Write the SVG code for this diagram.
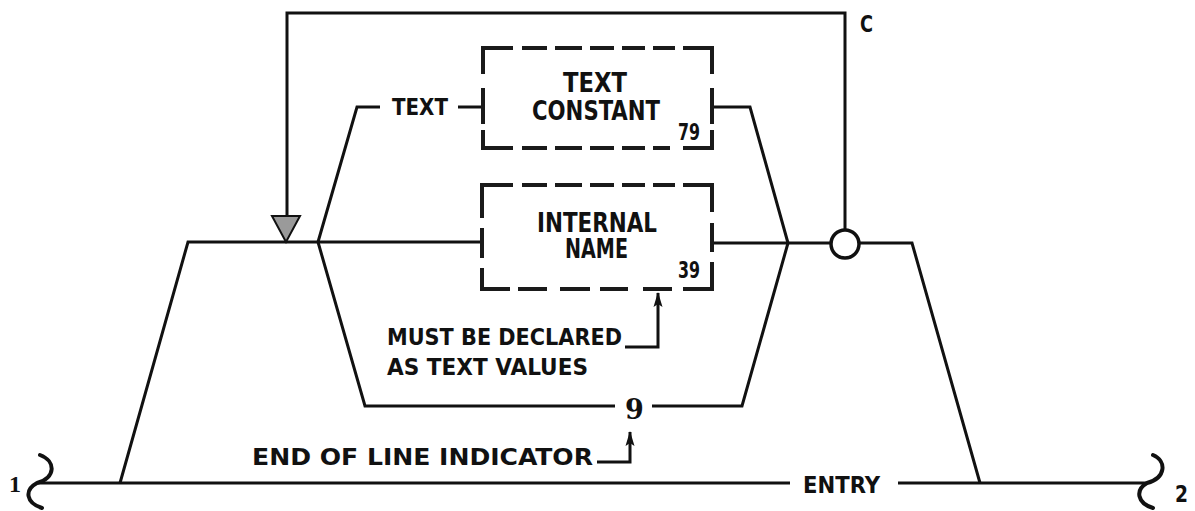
<svg xmlns="http://www.w3.org/2000/svg" width="1195" height="511" viewBox="0 0 1195 511">
<style>
.ln{fill:none;stroke:#111;stroke-width:3;stroke-linejoin:miter;stroke-linecap:butt}
.bx{fill:none;stroke:#1a1a1a;stroke-width:4;stroke-linecap:butt}
.t{font-family:'DejaVu Sans Condensed','DejaVu Sans',sans-serif;font-weight:bold;fill:#111}
.b{font-size:26px}
.s{font-size:23px}
</style>
<defs>
<marker id="ah" markerWidth="16" markerHeight="10" refX="15" refY="5" orient="auto" markerUnits="userSpaceOnUse" viewBox="0 0 16 10">
<path d="M16,5 L1,0.5 L4,5 L1,9.5 Z" fill="#111"/>
</marker>
</defs>
<rect width="1195" height="511" fill="#fff"/>

<g id="connectors">
<path class="ln" d="M38,483 H790"/>
<path class="ln" d="M898,483 H1147"/>
<path class="ln" d="M120,483 L188,242 H482"/>
<path class="ln" d="M712,243 H830"/>
<path class="ln" d="M860,243 H912 L980,483"/>
<path class="ln" d="M318,242 L357,107 H380"/>
<path class="ln" d="M458,107 H483"/>
<path class="ln" d="M712,107 H750 L788,243"/>
<path class="ln" d="M318,242 L365,406 H615"/>
<path class="ln" d="M652,406 H742 L788,243"/>
<path class="ln" d="M845,230 V13 H287 V217"/>
<path d="M272,216 H300 L286,242 Z" fill="#9a9a9a" stroke="#111" stroke-width="2"/>
<path class="ln" d="M625,347 H658 V293" marker-end="url(#ah)"/>
<path class="ln" d="M597,462 H630 V432" marker-end="url(#ah)"/>
<path fill="none" stroke="#111" stroke-width="4" stroke-linecap="round" d="M40,455 C56,461 56,478 37,483 C24,490 26,503 42,508"/>
<path fill="none" stroke="#111" stroke-width="4" stroke-linecap="round" d="M1153,455 C1167,461 1166,478 1147,483 C1135,490 1137,503 1153,508"/>
</g>

<g id="entry-text">
<text class="t s" x="803" y="493" textLength="77" lengthAdjust="spacingAndGlyphs">ENTRY</text>
<text style="font-family:'Liberation Serif',serif;font-weight:bold;font-size:24px;fill:#111" x="9" y="492">1</text>
<text class="t s" x="1175" y="502" textLength="13" lengthAdjust="spacingAndGlyphs">2</text>
</g>

<g id="loop-c">
<circle cx="845" cy="244" r="14" fill="#fff" stroke="#111" stroke-width="3.5"/>
<text class="t s" x="860" y="32" textLength="13" lengthAdjust="spacingAndGlyphs">C</text>
</g>

<g id="text-label">
<text class="t s" x="392" y="115" textLength="56" lengthAdjust="spacingAndGlyphs">TEXT</text>
</g>

<g id="text-constant">
<path class="bx" d="M483,74 V48 H513 M522,48 H547 M555,48 H582 M590,48 H614 M622,48 H645 M653,48 H675 M683,48 H712 V74 M483,88 V124 M712,88 V124 M483,130 V148 H513 M522,148 H547 M555,148 H582 M590,148 H614 M622,148 H645 M653,148 H670 M683,148 H712 V130"/>
<text class="t b" x="563" y="92" textLength="64" lengthAdjust="spacingAndGlyphs">TEXT</text>
<text class="t b" x="532" y="120" textLength="128" lengthAdjust="spacingAndGlyphs">CONSTANT</text>
<text class="t s" x="678" y="140" textLength="22" lengthAdjust="spacingAndGlyphs">79</text>
</g>

<g id="internal-name">
<path class="bx" d="M482,218 V185 H513 M522,185 H547 M555,185 H582 M590,185 H614 M622,185 H645 M653,185 H675 M683,185 H712 V212 M482,228 V258 M712,223 V252 M482,268 V289 H510 M518,289 H547 M560,289 H590 M600,289 H628 M643,289 H672 M683,289 H712 V262"/>
<text class="t b" x="537" y="232" textLength="120" lengthAdjust="spacingAndGlyphs">INTERNAL</text>
<text class="t b" x="565" y="258" textLength="63" lengthAdjust="spacingAndGlyphs">NAME</text>
<text class="t s" x="678" y="278" textLength="22" lengthAdjust="spacingAndGlyphs">39</text>
</g>

<g id="declared-note">
<text class="t s" x="387" y="345" textLength="235" lengthAdjust="spacingAndGlyphs">MUST BE DECLARED</text>
<text class="t s" x="387" y="375" textLength="201" lengthAdjust="spacingAndGlyphs">AS TEXT VALUES</text>
</g>

<g id="eol">
<text style="font-family:'DejaVu Serif',serif;font-weight:bold;font-size:27px;fill:#111" x="625" y="419">9</text>
<text class="t s" x="252" y="465" textLength="341" lengthAdjust="spacingAndGlyphs">END OF LINE INDICATOR</text>
</g>
</svg>
